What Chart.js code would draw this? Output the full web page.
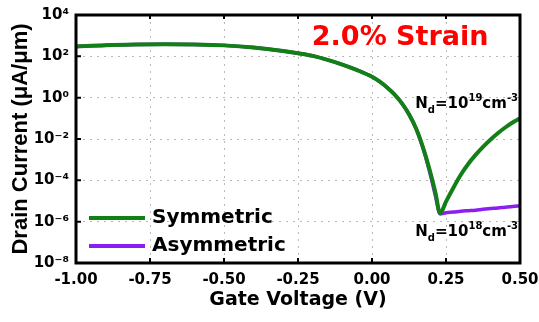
<!DOCTYPE html>
<html>
<head>
<meta charset="utf-8">
<script src="https://cdn.jsdelivr.net/npm/chart.js@4.4.0/dist/chart.umd.min.js"></script>
<style>
  html, body { margin: 0; padding: 0; background: #fff; }
  #wrap { width: 539px; height: 322px; }
</style>
</head>
<body>
<div id="wrap"><canvas id="chart" width="539" height="322"></canvas></div>
<script>
// gate voltage (V)
const gateVoltage = [
  -1.00, -0.90, -0.80, -0.70, -0.60, -0.50, -0.40, -0.30, -0.25, -0.20, -0.15, -0.10, -0.05,
  0.00, 0.025, 0.05, 0.075, 0.10, 0.125, 0.15, 0.175, 0.20, 0.215, 0.23,
  0.25, 0.275, 0.30, 0.325, 0.35, 0.375, 0.40, 0.425, 0.45, 0.475, 0.50
];
// drain current (uA/um), Nd = 1e19 on both sides
const symmetricCurrent = [
  302, 347, 372, 380, 372, 339, 269, 182, 141, 105, 67.6, 39.8, 21.4,
  10.2, 6.1, 3.2, 1.48, 0.556, 0.157, 0.0295, 2.95e-3, 1.66e-4, 2.24e-5, 2.5e-6,
  9.3e-6, 4.4e-5, 1.86e-4, 6.2e-4, 1.7e-3, 4.2e-3, 9.3e-3, 0.019, 0.036, 0.063, 0.10
];
// drain current (uA/um), Nd = 1e18 on drain side
const asymmetricCurrent = [
  302, 347, 372, 380, 372, 339, 269, 182, 141, 105, 67.6, 39.8, 21.4,
  10.2, 6.1, 3.2, 1.48, 0.556, 0.157, 0.0295, 2.7e-3, 1.3e-4, 1.6e-5, 2.4e-6,
  2.7e-6, 2.9e-6, 3.2e-6, 3.4e-6, 3.6e-6, 4.0e-6, 4.3e-6, 4.6e-6, 5.0e-6, 5.4e-6, 5.8e-6
];
const seriesLabels = ["Symmetric", "Asymmetric"];
const seriesColors = ["#137f17", "#8b1ef0"];
const xTickValues = [-1.0, -0.75, -0.5, -0.25, 0.0, 0.25, 0.5];
const yTickExponents = [-8, -7, -6, -5, -4, -3, -2, -1, 0, 1, 2, 3, 4];

const SUP = { "-": "\u207B", "0": "\u2070", "1": "\u00B9", "2": "\u00B2", "3": "\u00B3", "4": "\u2074",
  "5": "\u2075", "6": "\u2076", "7": "\u2077", "8": "\u2078", "9": "\u2079" };
const sup = (s) => String(s).split("").map((c) => SUP[c] || c).join("");

const FONT = "DejaVu Sans";
const GRID = "#b9b9b9";

// draws a run of text pieces with sub/superscripts
function drawRich(ctx, parts, x, y, align) {
  let total = 0;
  parts.forEach((p) => {
    ctx.font = `bold ${p.size}px "${FONT}"`;
    p.w = ctx.measureText(p.text).width;
    total += p.w;
  });
  let cx = align === "right" ? x - total : x;
  parts.forEach((p) => {
    ctx.font = `bold ${p.size}px "${FONT}"`;
    ctx.fillText(p.text, cx, y + (p.dy || 0));
    cx += p.w;
  });
}

const decorations = {
  id: "decorations",
  afterDatasetsDraw(chart) {
    const { ctx, chartArea: a, scales: { x, y } } = chart;
    ctx.save();
    // frame + inward ticks
    ctx.strokeStyle = "#000";
    ctx.lineWidth = 3;
    ctx.strokeRect(a.left, a.top, a.right - a.left, a.bottom - a.top);
    ctx.lineWidth = 2;
    ctx.beginPath();
    x.ticks.forEach((t) => {
      const px = x.getPixelForValue(t.value);
      ctx.moveTo(px, a.bottom); ctx.lineTo(px, a.bottom - 5);
      ctx.moveTo(px, a.top); ctx.lineTo(px, a.top + 4);
    });
    y.ticks.forEach((t) => {
      const py = y.getPixelForValue(t.value);
      ctx.moveTo(a.left, py); ctx.lineTo(a.left + 5, py);
    });
    ctx.stroke();

    // legend, bottom left inside the plot
    ctx.textBaseline = "middle";
    ctx.textAlign = "left";
    chart.data.datasets.forEach((ds, i) => {
      const ly = a.bottom - 45 + i * 28;
      ctx.strokeStyle = ds.borderColor;
      ctx.lineWidth = 4;
      ctx.beginPath();
      ctx.moveTo(a.left + 13, ly);
      ctx.lineTo(a.left + 69, ly);
      ctx.stroke();
      ctx.fillStyle = "#000";
      ctx.font = `bold 20px "${FONT}"`;
      ctx.fillText(ds.label, a.left + 76, ly);
    });

    // strain label
    ctx.textBaseline = "alphabetic";
    ctx.textAlign = "center";
    ctx.fillStyle = "#ff0000";
    ctx.font = `bold 27px "${FONT}"`;
    ctx.fillText("2.0% Strain", a.left + 0.73 * (a.right - a.left), a.top + 30);

    // doping labels
    ctx.textAlign = "left";
    ctx.fillStyle = "#000";
    const dop = (exp) => [
      { text: "N", size: 15 },
      { text: "d", size: 10, dy: 5 },
      { text: "=10", size: 15 },
      { text: exp, size: 10, dy: -7 },
      { text: "cm", size: 15 },
      { text: "-3", size: 10, dy: -7 },
    ];
    drawRich(ctx, dop("19"), a.right - 2, y.getPixelForValue(10 ** -0.5), "right");
    drawRich(ctx, dop("18"), a.right - 2, y.getPixelForValue(10 ** -6.7), "right");
    ctx.restore();
  },
};

new Chart(document.getElementById("chart"), {
  type: "line",
  data: {
    datasets: [
      {
        label: seriesLabels[0],
        data: gateVoltage.map((v, i) => ({ x: v, y: symmetricCurrent[i] })),
        borderColor: seriesColors[0],
        borderWidth: 4,
        pointRadius: 0,
        cubicInterpolationMode: "monotone",
        order: 0,
      },
      {
        label: seriesLabels[1],
        data: gateVoltage.map((v, i) => ({ x: v, y: asymmetricCurrent[i] })),
        borderColor: seriesColors[1],
        borderWidth: 3.5,
        pointRadius: 0,
        cubicInterpolationMode: "monotone",
        order: 1,
      },
    ],
  },
  options: {
    responsive: false,
    animation: false,
    devicePixelRatio: 1,
    layout: { padding: { top: 15, right: 19, bottom: 0, left: 0 } },
    plugins: { legend: { display: false }, tooltip: { enabled: false } },
    scales: {
      x: {
        type: "linear",
        min: -1,
        max: 0.5,
        afterBuildTicks: (s) => { s.ticks = xTickValues.map((v) => ({ value: v })); },
        afterFit: (s) => { s.height = 59; s.paddingLeft = 0; s.paddingRight = 0; },
        ticks: {
          callback: (v) => Number(v).toFixed(2),
          color: "#000",
          padding: 8,
          maxRotation: 0,
          font: { family: FONT, weight: "bold", size: 15 },
        },
        grid: { color: GRID, lineWidth: 1, drawTicks: false },
        border: { display: false, dash: [2, 5] },
        title: {
          display: true,
          text: "Gate Voltage (V)",
          color: "#000",
          font: { family: FONT, weight: "bold", size: 19 },
          padding: { top: 0, bottom: 11 },
        },
      },
      y: {
        type: "logarithmic",
        min: 1e-8,
        max: 1e4,
        afterBuildTicks: (s) => { s.ticks = yTickExponents.map((e) => ({ value: 10 ** e })); },
        afterFit: (s) => { s.width = 76; s.paddingTop = 0; s.paddingBottom = 0; },
        ticks: {
          callback: (v) => {
            const e = Math.round(Math.log10(v));
            return e % 2 === 0 ? "10" + sup(e) : "";
          },
          color: "#000",
          padding: 7,
          font: { family: FONT, weight: "bold", size: 15 },
        },
        grid: { color: GRID, lineWidth: 1, drawTicks: false },
        border: { display: false, dash: [2, 5] },
        title: {
          display: true,
          text: "Drain Current (\u03BCA/\u03BCm)",
          color: "#000",
          font: { family: "Liberation Sans", weight: "bold", size: 22 },
          padding: { top: 8, bottom: 0 },
        },
      },
    },
  },
  plugins: [decorations],
});
</script>
</body>
</html>
